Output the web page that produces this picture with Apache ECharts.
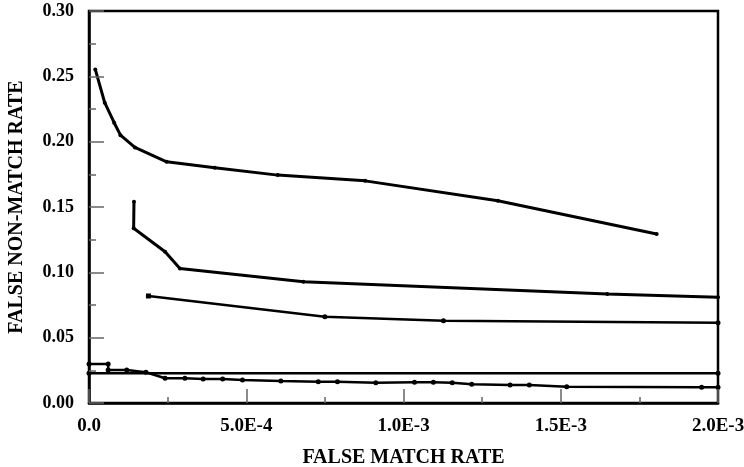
<!DOCTYPE html>
<html>
<head>
<meta charset="utf-8">
<script src="https://cdn.jsdelivr.net/npm/echarts@6/dist/echarts.min.js"></script>
<style>
html,body{margin:0;padding:0;background:#fff;}
#chart{width:744px;height:467px;}
</style>
</head>
<body>
<div id="chart"></div>
<script>
// x = false match rate, y = false non-match rate
var curveA = [[2e-5,0.2553],[5e-5,0.2298],[8e-5,0.2145],[1.0e-4,0.205],[1.46e-4,0.1956],[2.47e-4,0.1846],[4.0e-4,0.180],[6.0e-4,0.1744],[8.78e-4,0.170],[1.30e-3,0.1548],[1.805e-3,0.1293]];
var curveB = [[1.43e-4,0.154],[1.42e-4,0.1337],[2.42e-4,0.1158],[2.89e-4,0.103],[6.82e-4,0.0928],[1.648e-3,0.0834],[2.0e-3,0.0809]];
var curveC = [[1.89e-4,0.0819],[7.5e-4,0.066],[1.127e-3,0.063],[2.0e-3,0.0615]];
var curveD = [[0,0.0298],[6.1e-5,0.0298],[6.1e-5,0.0252],[1.2e-4,0.0252],[1.81e-4,0.0235],[2.42e-4,0.0189],[3.05e-4,0.0189],[3.63e-4,0.0184],[4.25e-4,0.0184],[4.88e-4,0.0176],[6.1e-4,0.0168],[7.29e-4,0.0163],[7.9e-4,0.0163],[9.12e-4,0.0155],[1.035e-3,0.0158],[1.095e-3,0.0158],[1.155e-3,0.0155],[1.217e-3,0.0143],[1.339e-3,0.0138],[1.40e-3,0.0138],[1.519e-3,0.0125],[1.948e-3,0.012],[2.0e-3,0.012]];
var curveE = [[0,0.0227],[2.0e-3,0.0227]];
var xTickLabels = {"0":"0.0","0.0005":"5.0E-4","0.001":"1.0E-3","0.0015":"1.5E-3","0.002":"2.0E-3"};
var xName = "FALSE MATCH RATE";
var yName = "FALSE NON-MATCH RATE";

var font = "Liberation Serif";
var chart = echarts.init(document.getElementById('chart'), null, {renderer:'canvas'});
function lineSeries(data, width, size, firstSymbol){
  return {
    type:'line', data:data, smooth:false, animation:false, z:3,
    symbol: firstSymbol ? function(v, p){ return p.dataIndex===0 ? firstSymbol : 'circle'; } : 'circle',
    symbolSize: size, showSymbol:true,
    lineStyle:{color:'#000', width:width},
    itemStyle:{color:'#000', borderWidth:0}
  };
}
chart.setOption({
  backgroundColor:'#fff',
  animation:false,
  grid:{left:89, right:26, top:11, bottom:64, show:true, borderColor:'#000', borderWidth:2.5,
        backgroundColor:'transparent', z:0, outerBoundsMode:'none', containLabel:false},
  xAxis:{
    type:'value', min:0, max:0.002, interval:0.0005, z:5,
    name:xName, nameLocation:'middle', nameGap:45,
    nameTextStyle:{fontFamily:font, fontWeight:'bold', fontSize:20, color:'#000'},
    axisLine:{show:true, onZero:false, lineStyle:{color:'#000', width:2.5}},
    axisTick:{show:true, inside:true, length:14, lineStyle:{color:'#666', width:1.5}},
    minorTick:{show:true, splitNumber:2, length:6, lineStyle:{color:'#666', width:1.5}},
    splitLine:{show:false},
    axisLabel:{margin:14, fontFamily:font, fontWeight:'bold', fontSize:19, color:'#000',
      formatter:function(v){ var k = String(+v.toFixed(6)); return xTickLabels[k]!==undefined ? xTickLabels[k] : ''; }}
  },
  yAxis:{
    type:'value', min:0, max:0.30, interval:0.05, z:5,
    name:yName, nameLocation:'middle', nameGap:62,
    nameTextStyle:{fontFamily:font, fontWeight:'bold', fontSize:20, color:'#000'},
    axisLine:{show:true, onZero:false, lineStyle:{color:'#000', width:2.5}},
    axisTick:{show:true, inside:true, length:15, lineStyle:{color:'#666', width:1.5}},
    minorTick:{show:true, splitNumber:2, length:7, lineStyle:{color:'#666', width:1.5}},
    splitLine:{show:false},
    axisLabel:{margin:15, fontFamily:font, fontWeight:'bold', fontSize:18, color:'#000',
      formatter:function(v){ return v.toFixed(2); }}
  },
  series:[
    lineSeries(curveA, 3, 4),
    lineSeries(curveB, 3, 4),
    lineSeries(curveC, 2.5, 5, 'rect'),
    lineSeries(curveD, 2.5, 5),
    lineSeries(curveE, 2.5, 5)
  ]
});
</script>
</body>
</html>
